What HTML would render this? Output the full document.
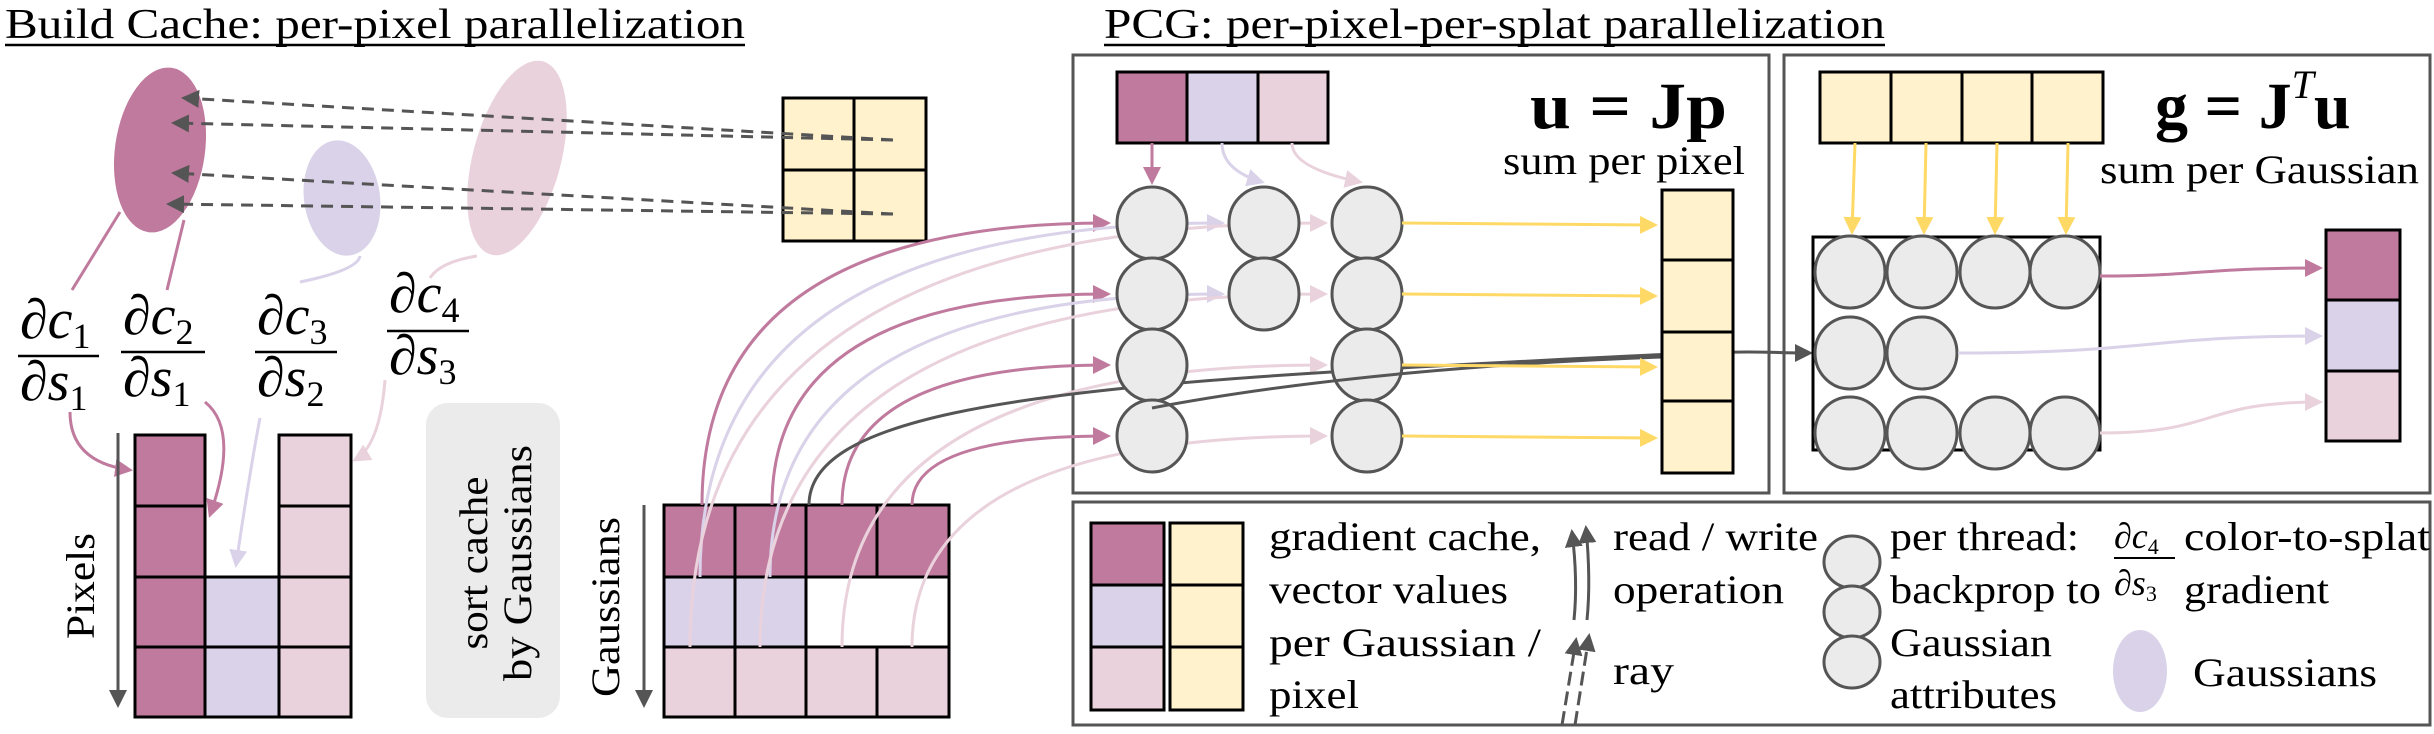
<!DOCTYPE html>
<html><head><meta charset="utf-8"><style>
html,body{margin:0;padding:0;background:#fff;}
svg{display:block;}
text{font-family:"Liberation Serif","Times New Roman",serif;}
</style></head><body>
<svg width="2434" height="734" viewBox="0 0 2434 734" xmlns="http://www.w3.org/2000/svg" font-family="Liberation Serif, serif">
<defs>
<marker id="aG" markerWidth="6" markerHeight="6" refX="5" refY="3" orient="auto" markerUnits="strokeWidth"><path d="M0,0 L6,3 L0,6z" fill="#555"/></marker>
<marker id="aM" markerWidth="6" markerHeight="6" refX="5" refY="3" orient="auto" markerUnits="strokeWidth"><path d="M0,0 L6,3 L0,6z" fill="#c07a9e"/></marker>
<marker id="aL" markerWidth="6" markerHeight="6" refX="5" refY="3" orient="auto" markerUnits="strokeWidth"><path d="M0,0 L6,3 L0,6z" fill="#d9d2e9"/></marker>
<marker id="aP" markerWidth="6" markerHeight="6" refX="5" refY="3" orient="auto" markerUnits="strokeWidth"><path d="M0,0 L6,3 L0,6z" fill="#ead2dc"/></marker>
<marker id="aY" markerWidth="6" markerHeight="6" refX="5" refY="3" orient="auto" markerUnits="strokeWidth"><path d="M0,0 L6,3 L0,6z" fill="#ffd966"/></marker>
</defs>

<text x="5" y="38" font-size="42" textLength="740" lengthAdjust="spacingAndGlyphs">Build Cache: per-pixel parallelization</text>
<line x1="5" y1="45" x2="745" y2="45" stroke="#000" stroke-width="2.5"/>
<text x="1104" y="38" font-size="42" textLength="781" lengthAdjust="spacingAndGlyphs">PCG: per-pixel-per-splat parallelization</text>
<line x1="1104" y1="45" x2="1885" y2="45" stroke="#000" stroke-width="2.5"/>

<ellipse cx="160" cy="150" rx="45" ry="83" transform="rotate(8 160 150)" fill="#c07a9e"/>
<ellipse cx="342" cy="198" rx="38" ry="58" transform="rotate(-8 342 198)" fill="#d9d2e9"/>
<ellipse cx="517" cy="158" rx="44" ry="100" transform="rotate(15 517 158)" fill="#ead2dc"/>

<g stroke="#000" stroke-width="3" fill="#fff2cc">
<rect x="783" y="98" width="143" height="143"/>
<line x1="854" y1="98" x2="854" y2="241"/><line x1="783" y1="170" x2="926" y2="170"/>
</g>
<g stroke="#555" stroke-width="3" stroke-dasharray="12,8" fill="none">
<line x1="893" y1="140" x2="184" y2="98" marker-end="url(#aG)"/>
<line x1="893" y1="140" x2="174" y2="123" marker-end="url(#aG)"/>
<line x1="893" y1="214" x2="174" y2="173" marker-end="url(#aG)"/>
<line x1="893" y1="214" x2="169" y2="204" marker-end="url(#aG)"/>
</g>

<g fill="none" stroke-width="3">
<path d="M120 212 L72 290" stroke="#c07a9e"/>
<path d="M184 220 L167 290" stroke="#c07a9e"/>
<path d="M360 256 Q358 270 300 282" stroke="#d9d2e9"/>
<path d="M477 256 Q440 262 430 278" stroke="#ead2dc"/>
</g>

<g font-style="italic" font-size="56">
<text x="20" y="338">∂c<tspan font-size="36" dy="10" font-style="normal">1</tspan></text>
<line x1="18" y1="356" x2="99" y2="356" stroke="#000" stroke-width="2.5"/>
<text x="20" y="400">∂s<tspan font-size="36" dy="10" font-style="normal">1</tspan></text>
<text x="123" y="334">∂c<tspan font-size="36" dy="10" font-style="normal">2</tspan></text>
<line x1="121" y1="352" x2="205" y2="352" stroke="#000" stroke-width="2.5"/>
<text x="123" y="396">∂s<tspan font-size="36" dy="10" font-style="normal">1</tspan></text>
<text x="257" y="334">∂c<tspan font-size="36" dy="10" font-style="normal">3</tspan></text>
<line x1="255" y1="352" x2="337" y2="352" stroke="#000" stroke-width="2.5"/>
<text x="257" y="396">∂s<tspan font-size="36" dy="10" font-style="normal">2</tspan></text>
<text x="389" y="312">∂c<tspan font-size="36" dy="10" font-style="normal">4</tspan></text>
<line x1="387" y1="331" x2="469" y2="331" stroke="#000" stroke-width="2.5"/>
<text x="389" y="374">∂s<tspan font-size="36" dy="10" font-style="normal">3</tspan></text>
</g>

<g fill="none" stroke-width="3">
<path d="M70 412 Q70 462 130 470" stroke="#c07a9e" marker-end="url(#aM)"/>
<path d="M205 402 Q240 430 210 515" stroke="#c07a9e" marker-end="url(#aM)"/>
<path d="M260 418 Q250 470 236 565" stroke="#d9d2e9" marker-end="url(#aL)"/>
<path d="M385 380 Q380 445 355 460" stroke="#ead2dc" marker-end="url(#aP)"/>
</g>

<g stroke="#000" stroke-width="3">
<rect x="135" y="435" width="70" height="71" fill="#c07a9e"/>
<rect x="135" y="506" width="70" height="71" fill="#c07a9e"/>
<rect x="135" y="577" width="70" height="70" fill="#c07a9e"/>
<rect x="135" y="647" width="70" height="70" fill="#c07a9e"/>
<rect x="205" y="577" width="74" height="70" fill="#d9d2e9"/>
<rect x="205" y="647" width="74" height="70" fill="#d9d2e9"/>
<rect x="279" y="435" width="72" height="71" fill="#ead2dc"/>
<rect x="279" y="506" width="72" height="71" fill="#ead2dc"/>
<rect x="279" y="577" width="72" height="70" fill="#ead2dc"/>
<rect x="279" y="647" width="72" height="70" fill="#ead2dc"/>
</g>
<line x1="118" y1="433" x2="118" y2="705" stroke="#555" stroke-width="3" marker-end="url(#aG)"/>
<text transform="translate(94 586) rotate(-90)" text-anchor="middle" font-size="40" textLength="106" lengthAdjust="spacingAndGlyphs">Pixels</text>

<rect x="426" y="403" width="134" height="315" rx="22" fill="#ebebeb"/>
<text transform="translate(487 563) rotate(-90)" text-anchor="middle" font-size="40" textLength="173" lengthAdjust="spacingAndGlyphs">sort cache</text>
<text transform="translate(531 563) rotate(-90)" text-anchor="middle" font-size="40" textLength="236" lengthAdjust="spacingAndGlyphs">by Gaussians</text>

<g stroke="#000" stroke-width="3">
<rect x="664" y="505" width="71" height="72" fill="#c07a9e"/>
<rect x="735" y="505" width="71" height="72" fill="#c07a9e"/>
<rect x="806" y="505" width="71" height="72" fill="#c07a9e"/>
<rect x="877" y="505" width="72" height="72" fill="#c07a9e"/>
<rect x="664" y="577" width="71" height="70" fill="#d9d2e9"/>
<rect x="735" y="577" width="71" height="70" fill="#d9d2e9"/>
<rect x="806" y="577" width="143" height="70" fill="#fff"/>
<rect x="664" y="647" width="71" height="70" fill="#ead2dc"/>
<rect x="735" y="647" width="71" height="70" fill="#ead2dc"/>
<rect x="806" y="647" width="71" height="70" fill="#ead2dc"/>
<rect x="877" y="647" width="72" height="70" fill="#ead2dc"/>
</g>
<line x1="644" y1="505" x2="644" y2="705" stroke="#555" stroke-width="3" marker-end="url(#aG)"/>
<text transform="translate(619 607) rotate(-90)" text-anchor="middle" font-size="40" textLength="180" lengthAdjust="spacingAndGlyphs">Gaussians</text>

<rect x="1073" y="55" width="696" height="438" fill="none" stroke="#555" stroke-width="3"/>
<rect x="1784" y="55" width="646" height="438" fill="none" stroke="#555" stroke-width="3"/>
<rect x="1073" y="502" width="1357" height="223" fill="none" stroke="#555" stroke-width="3"/>

<g fill="none" stroke-width="3">
<path d="M702 505 Q702 223 1108 223" stroke="#c07a9e" marker-end="url(#aM)"/>
<path d="M772 505 Q772 294 1108 294" stroke="#c07a9e" marker-end="url(#aM)"/>
<path d="M842 505 Q842 365 1108 365" stroke="#c07a9e" marker-end="url(#aM)"/>
<path d="M912 505 Q912 436 1108 436" stroke="#c07a9e" marker-end="url(#aM)"/>
<path d="M700 577 Q700 223 1222 223" stroke="#d9d2e9" marker-end="url(#aL)"/>
<path d="M770 577 Q770 294 1222 294" stroke="#d9d2e9" marker-end="url(#aL)"/>
<path d="M690 647 Q690 223 1325 223" stroke="#ead2dc" marker-end="url(#aP)"/>
<path d="M760 647 Q760 294 1325 294" stroke="#ead2dc" marker-end="url(#aP)"/>
<path d="M842 647 Q842 365 1325 365" stroke="#ead2dc" marker-end="url(#aP)"/>
<path d="M912 647 Q912 436 1325 436" stroke="#ead2dc" marker-end="url(#aP)"/>
<path d="M809 505 C809 420 1000 390 1400 368 S1733 353 1810 353" stroke="#555" marker-end="url(#aG)"/>
</g>

<g stroke="#000" stroke-width="3">
<rect x="1117" y="72" width="70" height="71" fill="#c07a9e"/>
<rect x="1187" y="72" width="71" height="71" fill="#d9d2e9"/>
<rect x="1258" y="72" width="70" height="71" fill="#ead2dc"/>
</g>
<g fill="none" stroke-width="3">
<path d="M1152 143 L1152 182" stroke="#c07a9e" marker-end="url(#aM)"/>
<path d="M1222 143 Q1222 170 1262 182" stroke="#d9d2e9" marker-end="url(#aL)"/>
<path d="M1292 143 Q1292 168 1360 182" stroke="#ead2dc" marker-end="url(#aP)"/>
</g>
<text x="1530" y="128" font-size="66" font-weight="bold" textLength="197" lengthAdjust="spacingAndGlyphs">u = Jp</text>
<text x="1503" y="174" font-size="40" textLength="242" lengthAdjust="spacingAndGlyphs">sum per pixel</text>
<g fill="#ebebeb" stroke="#555" stroke-width="3">
<ellipse cx="1152" cy="223" rx="35" ry="36"/><ellipse cx="1152" cy="294" rx="35" ry="36"/><ellipse cx="1152" cy="365" rx="35" ry="36"/><ellipse cx="1152" cy="436" rx="35" ry="36"/>
<ellipse cx="1264" cy="223" rx="35" ry="36"/><ellipse cx="1264" cy="294" rx="35" ry="36"/>
<ellipse cx="1367" cy="223" rx="35" ry="36"/><ellipse cx="1367" cy="294" rx="35" ry="36"/><ellipse cx="1367" cy="365" rx="35" ry="36"/><ellipse cx="1367" cy="436" rx="35" ry="36"/>
</g>
<path d="M1152 408 C1300 380 1500 360 1733 355" fill="none" stroke="#555" stroke-width="3"/>
<g stroke="#ffd966" stroke-width="3">
<line x1="1402" y1="223" x2="1655" y2="225" marker-end="url(#aY)"/>
<line x1="1402" y1="294" x2="1655" y2="296" marker-end="url(#aY)"/>
<line x1="1402" y1="365" x2="1655" y2="367" marker-end="url(#aY)"/>
<line x1="1402" y1="436" x2="1655" y2="438" marker-end="url(#aY)"/>
</g>
<g stroke="#000" stroke-width="3" fill="#fff2cc">
<rect x="1662" y="190" width="71" height="70"/><rect x="1662" y="260" width="71" height="72"/><rect x="1662" y="332" width="71" height="69"/><rect x="1662" y="401" width="71" height="72"/>
</g>

<g stroke="#000" stroke-width="3" fill="#fff2cc">
<rect x="1820" y="72" width="71" height="71"/><rect x="1891" y="72" width="71" height="71"/><rect x="1962" y="72" width="70" height="71"/><rect x="2032" y="72" width="71" height="71"/>
</g>
<text x="2155" y="128" font-size="66" font-weight="bold">g = J<tspan font-size="40" font-style="italic" font-weight="normal" dy="-30">T</tspan><tspan dy="30">u</tspan></text>
<text x="2100" y="183" font-size="40" textLength="319" lengthAdjust="spacingAndGlyphs">sum per Gaussian</text>
<g stroke="#ffd966" stroke-width="3">
<line x1="1855" y1="143" x2="1852" y2="232" marker-end="url(#aY)"/>
<line x1="1926" y1="143" x2="1924" y2="232" marker-end="url(#aY)"/>
<line x1="1997" y1="143" x2="1995" y2="232" marker-end="url(#aY)"/>
<line x1="2068" y1="143" x2="2066" y2="232" marker-end="url(#aY)"/>
</g>
<rect x="1813" y="237" width="287" height="213" fill="#fff" stroke="#000" stroke-width="3"/>
<g fill="#ebebeb" stroke="#555" stroke-width="3">
<ellipse cx="1850" cy="272" rx="35" ry="36"/><ellipse cx="1922" cy="272" rx="35" ry="36"/><ellipse cx="1995" cy="272" rx="35" ry="36"/><ellipse cx="2065" cy="272" rx="35" ry="36"/>
<ellipse cx="1850" cy="353" rx="35" ry="36"/><ellipse cx="1922" cy="353" rx="35" ry="36"/>
<ellipse cx="1850" cy="433" rx="35" ry="36"/><ellipse cx="1922" cy="433" rx="35" ry="36"/><ellipse cx="1995" cy="433" rx="35" ry="36"/><ellipse cx="2065" cy="433" rx="35" ry="36"/>
</g>
<g fill="none" stroke-width="3">
<path d="M2100 276 C2200 276 2200 268 2320 268" stroke="#c07a9e" marker-end="url(#aM)"/>
<path d="M1958 353 C2150 353 2150 336 2320 336" stroke="#d9d2e9" marker-end="url(#aL)"/>
<path d="M2100 433 C2220 433 2200 402 2320 402" stroke="#ead2dc" marker-end="url(#aP)"/>
</g>
<g stroke="#000" stroke-width="3">
<rect x="2326" y="230" width="74" height="70" fill="#c07a9e"/><rect x="2326" y="300" width="74" height="71" fill="#d9d2e9"/><rect x="2326" y="371" width="74" height="70" fill="#ead2dc"/>
</g>

<g stroke="#000" stroke-width="3">
<rect x="1091" y="523" width="73" height="62" fill="#c07a9e"/><rect x="1091" y="585" width="73" height="62" fill="#d9d2e9"/><rect x="1091" y="647" width="73" height="63" fill="#ead2dc"/>
<rect x="1170" y="523" width="73" height="62" fill="#fff2cc"/><rect x="1170" y="585" width="73" height="62" fill="#fff2cc"/><rect x="1170" y="647" width="73" height="63" fill="#fff2cc"/>
</g>
<g font-size="40" lengthAdjust="spacingAndGlyphs">
<text x="1269" y="550" textLength="272" lengthAdjust="spacingAndGlyphs">gradient cache,</text>
<text x="1269" y="603" textLength="239" lengthAdjust="spacingAndGlyphs">vector values</text>
<text x="1269" y="656" textLength="272" lengthAdjust="spacingAndGlyphs">per Gaussian /</text>
<text x="1269" y="708" textLength="90" lengthAdjust="spacingAndGlyphs">pixel</text>
<text x="1613" y="550" textLength="205" lengthAdjust="spacingAndGlyphs">read / write</text>
<text x="1613" y="603" textLength="171" lengthAdjust="spacingAndGlyphs">operation</text>
<text x="1613" y="684" textLength="61" lengthAdjust="spacingAndGlyphs">ray</text>
<text x="1890" y="550" textLength="189" lengthAdjust="spacingAndGlyphs">per thread:</text>
<text x="1890" y="603" textLength="211" lengthAdjust="spacingAndGlyphs">backprop to</text>
<text x="1890" y="656" textLength="162" lengthAdjust="spacingAndGlyphs">Gaussian</text>
<text x="1890" y="708" textLength="167" lengthAdjust="spacingAndGlyphs">attributes</text>
<text x="2184" y="550" textLength="246" lengthAdjust="spacingAndGlyphs">color-to-splat</text>
<text x="2184" y="603" textLength="145" lengthAdjust="spacingAndGlyphs">gradient</text>
<text x="2193" y="686" textLength="184" lengthAdjust="spacingAndGlyphs">Gaussians</text>
</g>
<g stroke="#555" stroke-width="3" fill="none">
<path d="M1574 620 Q1578 580 1572 532" marker-end="url(#aG)"/>
<path d="M1587 620 Q1591 580 1586 528" marker-end="url(#aG)"/>
<path d="M1562 725 L1576 640" stroke-dasharray="14,6" marker-end="url(#aG)"/>
<path d="M1575 725 L1589 636" stroke-dasharray="14,6" marker-end="url(#aG)"/>
</g>
<g fill="#ebebeb" stroke="#555" stroke-width="3">
<ellipse cx="1852" cy="562" rx="28" ry="26"/><ellipse cx="1852" cy="612" rx="28" ry="26"/><ellipse cx="1852" cy="662" rx="28" ry="26"/>
</g>
<g font-style="italic" font-size="36">
<text x="2114" y="548">∂c<tspan font-size="22" dy="6" font-style="normal">4</tspan></text>
<line x1="2114" y1="558" x2="2175" y2="558" stroke="#000" stroke-width="2"/>
<text x="2114" y="595">∂s<tspan font-size="22" dy="6" font-style="normal">3</tspan></text>
</g>
<ellipse cx="2140" cy="671" rx="27" ry="41" fill="#d9d2e9"/>
</svg>
</body></html>
